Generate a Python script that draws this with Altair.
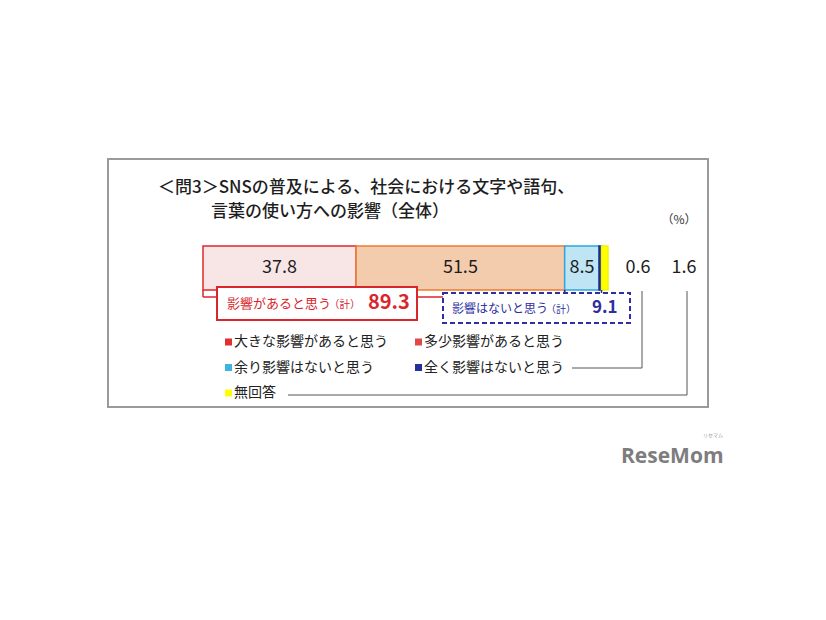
import altair as alt
import pandas as pd

FONT = "Noto Sans CJK JP"

categories = ["大きな影響があると思う", "多少影響があると思う", "余り影響はないと思う", "全く影響はないと思う", "無回答"]
values = [37.8, 51.5, 8.5, 0.6, 1.6]
fill_colors = ["#f8e6e6", "#f3cbad", "#bfe4f3", "#1f2a8c", "#ffff00"]
stroke_colors = ["#e02828", "#ee7d32", "#2ea6de", "#1f2a8c", "#f5f500"]
legend_colors = ["#e03030", "#e34848", "#3fb4e0", "#25309a", "#ffff00"]

title_lines = ["＜問3＞SNSの普及による、社会における文字や語句、", "言葉の使い方への影響（全体）"]
unit_label = "（%）"
pos_label = "影響があると思う"
neg_label = "影響はないと思う"
sum_label = "（計）"

pos_total = round(values[0] + values[1], 1)
neg_total = round(values[2] + values[3], 1)


def P(v):
    return v - 8


xscale = alt.Scale(domain=[0, 100], range=[P(203), P(608)])

df = pd.DataFrame({"cat": categories, "val": values, "order": list(range(len(values)))})
one = pd.DataFrame({"a": [0]})

base = alt.Chart(df).transform_window(
    end="sum(val)", sort=[alt.SortField("order")], frame=[None, 0]
).transform_calculate(start="datum.end - datum.val", mid="(datum.end + datum.start) / 2")

frame = alt.Chart(one).mark_rect(fillOpacity=0, stroke="#9a9a9a", strokeWidth=2).encode(
    x=alt.value(P(108)), x2=alt.value(P(708)), y=alt.value(P(159)), y2=alt.value(P(407))
)

t1 = alt.Chart(one).mark_text(text=title_lines[0], font=FONT, fontSize=17, fontWeight=500, align="left",
                              baseline="middle", color="#1e1e1e").encode(
    x=alt.value(P(158)), y=alt.value(P(188)))
t2 = alt.Chart(one).mark_text(text=title_lines[1], font=FONT, fontSize=17, fontWeight=500, align="left",
                              baseline="middle", color="#1e1e1e").encode(
    x=alt.value(P(211)), y=alt.value(P(212)))
unit = alt.Chart(one).mark_text(text=unit_label, font=FONT, fontSize=12, align="center",
                                baseline="middle", color="#333").encode(
    x=alt.value(P(679)), y=alt.value(P(220)))

bars = base.mark_bar(strokeWidth=1.5).encode(
    x=alt.X("start:Q", scale=xscale, axis=None),
    x2="end:Q",
    y=alt.value(P(246)), y2=alt.value(P(290)),
    fill=alt.Fill("cat:N", scale=alt.Scale(domain=categories, range=fill_colors), legend=None),
    stroke=alt.Stroke("cat:N", scale=alt.Scale(domain=categories, range=stroke_colors), legend=None),
)

inlabels = base.transform_filter("datum.order < 3").mark_text(
    font=FONT, fontSize=18, baseline="middle", align="center", color="#1e1e1e").encode(
    x=alt.X("mid:Q", scale=xscale, axis=None),
    y=alt.value(P(268)),
    text=alt.Text("val:Q", format=".1f"),
)

outlabels = base.transform_filter("datum.order >= 3").transform_calculate(
    lx=f"{P(638)} + (datum.order - 3) * 46").mark_text(
    font=FONT, fontSize=18, baseline="middle", align="center", color="#1e1e1e").encode(
    x=alt.X("lx:Q", scale=None, axis=None),
    y=alt.value(P(268)),
    text=alt.Text("val:Q", format=".1f"),
)

RED = "#d8262c"
NAVY = "#2e2e9e"

# red bracket (0 .. pos_total)
red_df = pd.DataFrame({"x": [0, pos_total]})
red_v = alt.Chart(red_df).mark_rule(color=RED, strokeWidth=1.5).encode(
    x=alt.X("x:Q", scale=xscale, axis=None), y=alt.value(P(290)), y2=alt.value(P(297)))
red_h = alt.Chart(pd.DataFrame({"x": [0], "x2": [pos_total]})).mark_rule(color=RED, strokeWidth=1.5).encode(
    x=alt.X("x:Q", scale=xscale, axis=None), x2="x2:Q", y=alt.value(P(297)))
red_box = alt.Chart(one).mark_rect(fill="white", stroke=RED, strokeWidth=2).encode(
    x=alt.value(P(217)), x2=alt.value(P(417)), y=alt.value(P(287)), y2=alt.value(P(320)))
red_t1 = alt.Chart(one).mark_text(text=pos_label, font=FONT, fontSize=13, align="left",
                                  baseline="middle", color=RED).encode(
    x=alt.value(P(227)), y=alt.value(P(304)))
red_t2 = alt.Chart(one).mark_text(text=sum_label, font=FONT, fontSize=10.5, align="left",
                                  baseline="middle", color=RED).encode(
    x=alt.value(P(329)), y=alt.value(P(305)))
red_t3 = alt.Chart(one).mark_text(text=f"{pos_total:.1f}", font=FONT, fontSize=20, fontWeight="bold",
                                  align="left", baseline="middle", color=RED).encode(
    x=alt.value(P(368)), y=alt.value(P(303)))

# blue bracket (pos_total .. pos_total+neg_total)
blue_df = pd.DataFrame({"x": [pos_total, pos_total + neg_total]})
blue_v = alt.Chart(blue_df).mark_rule(color=NAVY, strokeWidth=1.5).encode(
    x=alt.X("x:Q", scale=xscale, axis=None), y=alt.value(P(290)), y2=alt.value(P(295)))
blue_box = alt.Chart(one).mark_rect(fill="white", stroke=NAVY, strokeWidth=2, strokeDash=[5, 3]).encode(
    x=alt.value(P(443)), x2=alt.value(P(630)), y=alt.value(P(293)), y2=alt.value(P(323)))
blue_t1 = alt.Chart(one).mark_text(text=neg_label, font=FONT, fontSize=12, align="left",
                                   baseline="middle", color=NAVY).encode(
    x=alt.value(P(452)), y=alt.value(P(309)))
blue_t2 = alt.Chart(one).mark_text(text=sum_label, font=FONT, fontSize=10, align="left",
                                   baseline="middle", color=NAVY).encode(
    x=alt.value(P(546)), y=alt.value(P(310)))
blue_t3 = alt.Chart(one).mark_text(text=f"{neg_total:.1f}", font=FONT, fontSize=17, fontWeight="bold",
                                   align="left", baseline="middle", color=NAVY).encode(
    x=alt.value(P(592)), y=alt.value(P(308)))

# leader lines for small values
lead_col = "#555555"
l1v = alt.Chart(one).mark_rule(color=lead_col, strokeWidth=1).encode(
    x=alt.value(P(642)), y=alt.value(P(291)), y2=alt.value(P(368)))
l1h = alt.Chart(one).mark_rule(color=lead_col, strokeWidth=1).encode(
    x=alt.value(P(572)), x2=alt.value(P(642)), y=alt.value(P(368)))
l2v = alt.Chart(one).mark_rule(color=lead_col, strokeWidth=1).encode(
    x=alt.value(P(687)), y=alt.value(P(291)), y2=alt.value(P(395)))
l2h = alt.Chart(one).mark_rule(color=lead_col, strokeWidth=1).encode(
    x=alt.value(P(288)), x2=alt.value(P(687)), y=alt.value(P(395)))

# legend
leg_df = pd.DataFrame({"cat": categories, "lc": legend_colors, "i": list(range(len(categories)))})
leg_base = alt.Chart(leg_df).transform_calculate(
    col="datum.i % 2", row="floor(datum.i / 2)"
).transform_calculate(
    sx=f"{P(228.5)} + datum.col * 190",
    tx=f"{P(234)} + datum.col * 190",
    ly=f"{P(342)} + datum.row * 25.5",
)
leg_sq = leg_base.mark_square(size=49, opacity=1).encode(
    x=alt.X("sx:Q", scale=None, axis=None),
    y=alt.Y("ly:Q", scale=None, axis=None),
    fill=alt.Fill("lc:N", scale=None),
)
leg_tx = leg_base.mark_text(font=FONT, fontSize=14, align="left", baseline="middle", color="#222").encode(
    x=alt.X("tx:Q", scale=None, axis=None),
    y=alt.Y("ly:Q", scale=None, axis=None),
    text="cat:N",
)

logo = alt.Chart(one).mark_text(text="ReseMom", font="Open Sans", fontSize=21, fontWeight="bold",
                                align="left", baseline="middle", color="#7d7d7d").encode(
    x=alt.value(P(621)), y=alt.value(P(457)))
logo_small = alt.Chart(one).mark_text(text="リセマム", font=FONT, fontSize=5, align="left",
                                      baseline="middle", color="#999").encode(
    x=alt.value(P(703)), y=alt.value(P(435)))

chart = alt.layer(
    frame, t1, t2, unit, bars, inlabels, outlabels,
    red_v, red_h, red_box, red_t1, red_t2, red_t3,
    blue_v, blue_box, blue_t1, blue_t2, blue_t3,
    l1v, l1h, l2v, l2h, leg_sq, leg_tx, logo, logo_small,
).resolve_scale(x="independent", y="independent").properties(
    width=810, height=604, autosize="none", padding=0, background="white"
).configure_view(stroke=None)

chart.save("out.html", embed_options={"renderer": "svg", "actions": False})
